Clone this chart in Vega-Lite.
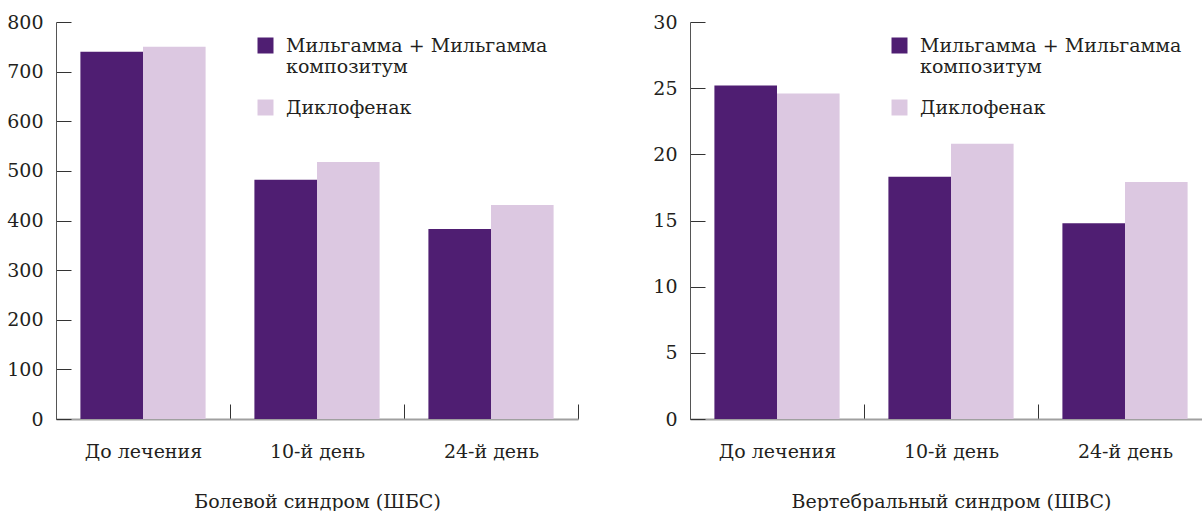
{
  "$schema": "https://vega.github.io/schema/vega-lite/v6.json",
  "padding": {"left": 0, "top": 13, "right": 0, "bottom": 0},
  "background": "white",
  "data": {
    "values": [
      {"panel": "pain", "stage": "До лечения", "group": "Мильгамма + Мильгамма композитум", "value": 740},
      {"panel": "pain", "stage": "До лечения", "group": "Диклофенак", "value": 750},
      {"panel": "pain", "stage": "10-й день", "group": "Мильгамма + Мильгамма композитум", "value": 482},
      {"panel": "pain", "stage": "10-й день", "group": "Диклофенак", "value": 518},
      {"panel": "pain", "stage": "24-й день", "group": "Мильгамма + Мильгамма композитум", "value": 383},
      {"panel": "pain", "stage": "24-й день", "group": "Диклофенак", "value": 431},
      {"panel": "vert", "stage": "До лечения", "group": "Мильгамма + Мильгамма композитум", "value": 25.2},
      {"panel": "vert", "stage": "До лечения", "group": "Диклофенак", "value": 24.6},
      {"panel": "vert", "stage": "10-й день", "group": "Мильгамма + Мильгамма композитум", "value": 18.3},
      {"panel": "vert", "stage": "10-й день", "group": "Диклофенак", "value": 20.8},
      {"panel": "vert", "stage": "24-й день", "group": "Мильгамма + Мильгамма композитум", "value": 14.8},
      {"panel": "vert", "stage": "24-й день", "group": "Диклофенак", "value": 17.9}
    ]
  },
  "config": {
    "font": "DejaVu Serif",
    "view": {"stroke": null},
    "axis": {
      "labelFont": "DejaVu Serif",
      "labelFontSize": 19,
      "labelColor": "#231f20",
      "titleFont": "DejaVu Serif",
      "titleFontSize": 19,
      "titleFontWeight": "normal",
      "titleColor": "#231f20",
      "grid": false
    },
    "legend": {
      "labelFont": "DejaVu Serif",
      "labelFontSize": 19,
      "labelColor": "#231f20",
      "padding": 0
    }
  },
  "spacing": 55,
  "resolve": {"scale": {"color": "independent", "y": "independent"}, "legend": {"color": "independent"}},
  "hconcat": [
    {
      "width": 522,
      "height": 397,
      "transform": [{"filter": "datum.panel === 'pain'"}],
      "mark": {"type": "bar"},
      "encoding": {
        "x": {
          "field": "stage", "type": "nominal", "sort": ["До лечения", "10-й день", "24-й день"],
          "scale": {"paddingInner": 0, "paddingOuter": 0},
          "axis": {"title": "Болевой синдром (ШБС)", "labelAngle": 0, "tickBand": "extent", "tickSize": -15,
                   "tickColor": "#333", "domainColor": "#a0a0a0", "domainWidth": 2, "labelPadding": 38, "titlePadding": 31}
        },
        "xOffset": {
          "field": "group", "type": "nominal",
          "sort": ["Мильгамма + Мильгамма композитум", "Диклофенак"],
          "scale": {"paddingInner": 0, "paddingOuter": 0.39}
        },
        "y": {
          "field": "value", "type": "quantitative",
          "scale": {"domain": [0, 800], "nice": false},
          "axis": {"title": null, "values": [0, 100, 200, 300, 400, 500, 600, 700, 800], "tickSize": -15,
                   "tickColor": "#333", "domainColor": "#555", "labelPadding": 28, "minExtent": 56, "maxExtent": 56}
        },
        "color": {
          "field": "group", "type": "nominal",
          "sort": ["Мильгамма + Мильгамма композитум", "Диклофенак"],
          "scale": {"range": ["#4f1e72", "#dcc8e1"]},
          "legend": {
            "title": null, "orient": "none", "legendX": 200, "legendY": 14,
            "symbolType": "square", "symbolSize": 256, "symbolStrokeWidth": 0,
            "labelOffset": 11, "labelLimit": 400, "rowPadding": 21,
            "labelExpr": "datum.label === 'Мильгамма + Мильгамма композитум' ? ['Мильгамма + Мильгамма', 'композитум'] : datum.label"
          }
        }
      }
    },
    {
      "width": 522,
      "height": 397,
      "transform": [{"filter": "datum.panel === 'vert'"}],
      "mark": {"type": "bar"},
      "encoding": {
        "x": {
          "field": "stage", "type": "nominal", "sort": ["До лечения", "10-й день", "24-й день"],
          "scale": {"paddingInner": 0, "paddingOuter": 0},
          "axis": {"title": "Вертебральный синдром (ШВС)", "labelAngle": 0, "tickBand": "extent", "tickSize": -15,
                   "tickColor": "#333", "domainColor": "#a0a0a0", "domainWidth": 2, "labelPadding": 38, "titlePadding": 31}
        },
        "xOffset": {
          "field": "group", "type": "nominal",
          "sort": ["Мильгамма + Мильгамма композитум", "Диклофенак"],
          "scale": {"paddingInner": 0, "paddingOuter": 0.39}
        },
        "y": {
          "field": "value", "type": "quantitative",
          "scale": {"domain": [0, 30], "nice": false},
          "axis": {"title": null, "values": [0, 5, 10, 15, 20, 25, 30], "tickSize": -15,
                   "tickColor": "#333", "domainColor": "#555", "labelPadding": 28, "minExtent": 56, "maxExtent": 56}
        },
        "color": {
          "field": "group", "type": "nominal",
          "sort": ["Мильгамма + Мильгамма композитум", "Диклофенак"],
          "scale": {"range": ["#4f1e72", "#dcc8e1"]},
          "legend": {
            "title": null, "orient": "none", "legendX": 200, "legendY": 14,
            "symbolType": "square", "symbolSize": 256, "symbolStrokeWidth": 0,
            "labelOffset": 11, "labelLimit": 400, "rowPadding": 21,
            "labelExpr": "datum.label === 'Мильгамма + Мильгамма композитум' ? ['Мильгамма + Мильгамма', 'композитум'] : datum.label"
          }
        }
      }
    }
  ]
}
